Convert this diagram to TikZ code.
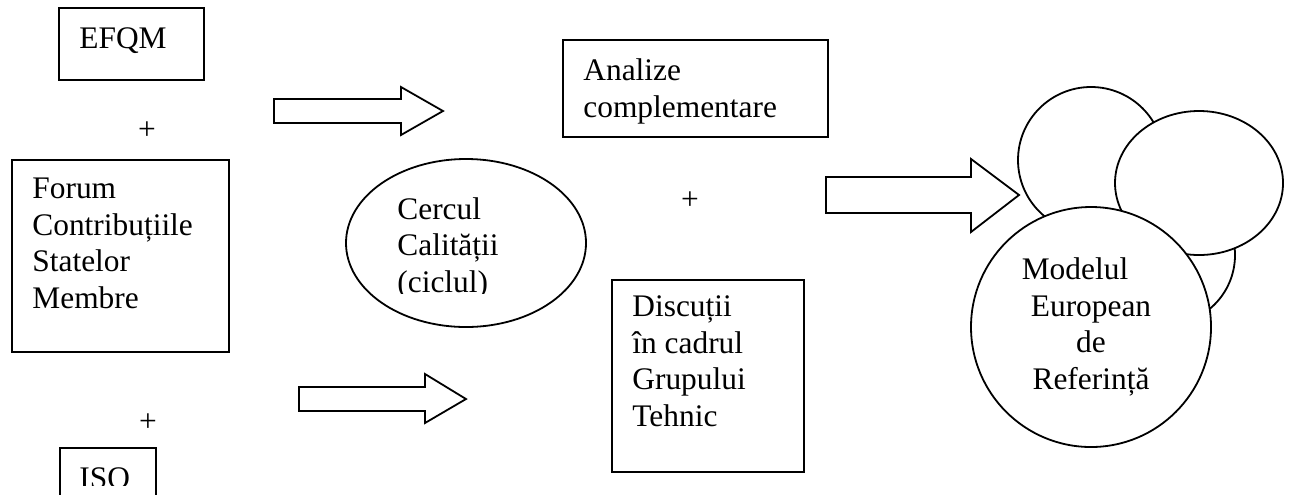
\documentclass[tikz,border=0pt]{standalone}
\usepackage{fontspec}
\setmainfont{Liberation Serif}
\usetikzlibrary{shapes.geometric}
\tikzset{
  box/.style={draw, line width=0.9pt, rectangle, inner sep=0pt, anchor=north west},
  txt/.style={inner sep=0pt, anchor=base west, align=left},
  bubble/.style={draw, line width=0.9pt, fill=white, inner sep=0pt},
  blockarrow/.style={draw, line width=0.9pt},
  plus/.style={inner sep=0pt},
}
\begin{document}
\begin{tikzpicture}[x=0.5pt, y=-0.5pt, font=\fontsize{15.7}{18.2}\selectfont]
\useasboundingbox (0,0) rectangle (1293,494);
\clip (0,0) rectangle (1293,494);
% left column (text nodes sit on the baseline of their last line)
\node[box, minimum width=72.5pt, minimum height=36pt] (efqm) at (58,7) {};
\node[txt] (efqmtxt) at (79,48) {EFQM};
\node[plus] (plus1) at (147,131) {+};
\node[box, minimum width=108.5pt, minimum height=96pt] (forum) at (11,159) {};
\node[txt] (forumtxt) at (32,308) {Forum\\Contribuțiile\\Statelor\\Membre};
\node[plus] (plus2) at (148,423) {+};
\node[box, minimum width=48pt, minimum height=40pt] (iso) at (59,447) {};
\begin{scope}
\clip (59,447) rectangle (155,485);
\node[txt] (isotxt) at (79,488) {ISO};
\end{scope}
% block arrows
\draw[blockarrow] (274,99) -- (401,99) -- (401,87) -- (443,111) -- (401,135) -- (401,123) -- (274,123) -- cycle;
\draw[blockarrow] (299,387) -- (425,387) -- (425,374) -- (466,399) -- (425,423) -- (425,411) -- (299,411) -- cycle;
\draw[blockarrow] (826,177) -- (971,177) -- (971,159) -- (1019,195) -- (971,232) -- (971,213) -- (826,213) -- cycle;
% middle
\node[ellipse, draw, line width=0.9pt, minimum width=120pt, minimum height=84pt] (cerc) at (466,243) {};
\begin{scope}
\clip (340,150) rectangle (590,293);
\node[txt] (cerctxt) at (397,292) {Cercul\\Calității\\(ciclul)};
\end{scope}
\node[box, minimum width=132.5pt, minimum height=48.5pt] (analize) at (562,39) {};
\node[txt] (analizetxt) at (583,117) {Analize\\complementare};
\node[plus] (plus3) at (690,201) {+};
\node[box, minimum width=96pt, minimum height=96pt] (discutii) at (611,279) {};
\node[txt] (discutiitxt) at (632,426) {Discuții\\în cadrul\\Grupului\\Tehnic};
% right cluster
\node[bubble, circle, minimum size=70pt] (back) at (1165,255) {};
\node[bubble, circle, minimum size=73pt] (left) at (1091,160) {};
\node[bubble, ellipse, minimum width=84pt, minimum height=72pt] (right) at (1199,183) {};
\node[bubble, circle, minimum size=120pt, align=center] (model) at (1091,327) {Modelul\hspace*{16pt}\\European\\de\\Referință};
\end{tikzpicture}
\end{document}
